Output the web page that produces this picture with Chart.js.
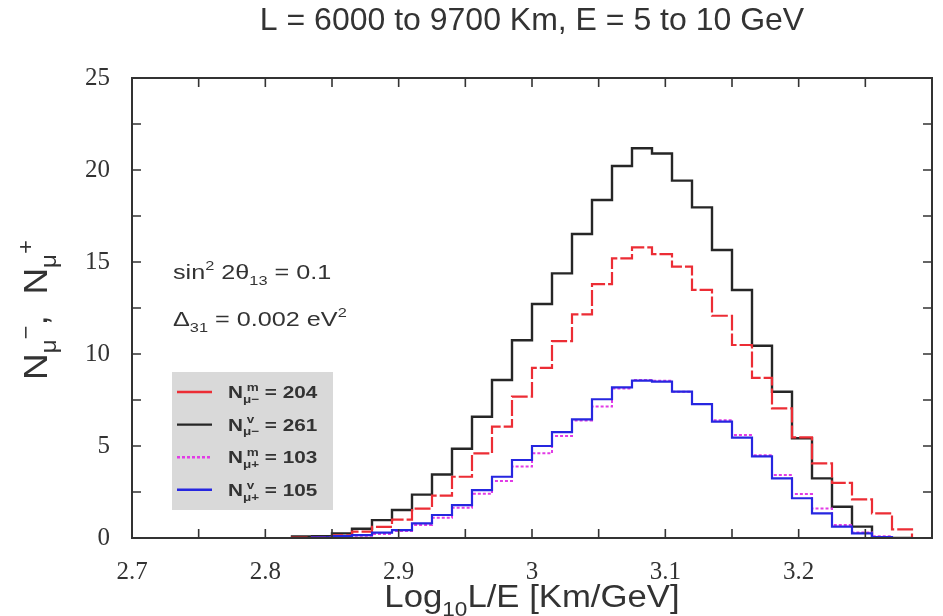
<!DOCTYPE html>
<html>
<head>
<meta charset="utf-8">
<script src="https://cdn.jsdelivr.net/npm/chart.js@4"></script>
<style>
  body { margin: 0; background: #fff; }
  #wrap { width: 943px; height: 616px; }
</style>
</head>
<body>
<div id="wrap"><canvas id="chart" width="943" height="616"></canvas></div>
<script>
// bin edges in Log10 L/E (last entry closes the last bin)
const binEdges = [2.82, 2.835, 2.85, 2.865, 2.88, 2.895, 2.91, 2.925, 2.94, 2.955,
    2.97, 2.985, 3.0, 3.015, 3.03, 3.045, 3.06, 3.075, 3.09, 3.105,
    3.12, 3.135, 3.15, 3.165, 3.18, 3.195, 3.21, 3.225, 3.24, 3.255,
    3.27, 3.285];

// events per bin
const muMinusMatter = [0.02, 0.05, 0.15, 0.35, 0.6, 1.0, 1.6, 2.3, 3.33, 4.6,
    6.05, 7.68, 9.25, 10.7, 12.15, 13.8, 15.2, 15.8, 15.43, 14.75,
    13.48, 12.08, 10.49, 8.7, 7.05, 5.47, 4.06, 3.0, 2.1, 1.34, 0.47];
const muMinusVacuum = [0.08, 0.1, 0.25, 0.5, 0.97, 1.52, 2.36, 3.45, 4.85, 6.59,
    8.59, 10.75, 12.72, 14.38, 16.52, 18.37, 20.22, 21.18, 20.9, 19.42,
    17.97, 15.65, 13.48, 10.45, 7.95, 5.42, 3.24, 1.7, 0.62, 0, 0];
const muPlusMatter = [0, 0.02, 0.06, 0.12, 0.22, 0.38, 0.7, 1.1, 1.65, 2.4,
    3.1, 3.88, 4.6, 5.54, 6.38, 7.14, 8.13, 8.59, 8.55, 7.95,
    7.28, 6.4, 5.6, 4.5, 3.42, 2.39, 1.61, 0.7, 0.3, 0.1, 0];
const muPlusVacuum = [0, 0.03, 0.1, 0.16, 0.29, 0.43, 0.8, 1.25, 1.79, 2.6,
    3.33, 4.24, 5.0, 5.75, 6.45, 7.54, 8.19, 8.55, 8.5, 7.95,
    7.28, 6.32, 5.45, 4.44, 3.24, 2.16, 1.34, 0.62, 0.25, 0.05, 0];

const totals = { mm: 204, mv: 261, pm: 103, pv: 105 };

const TEXT = '#333';
const SANS = '"Liberation Sans", Arial, sans-serif';
const SERIF = '"Liberation Serif", "Times New Roman", serif';

// turn a bin list into step points
function histPoints(values) {
    const pts = [{ x: binEdges[0], y: 0 }];
    values.forEach((v, i) => pts.push({ x: binEdges[i], y: v }));
    pts.push({ x: binEdges[values.length], y: 0 });
    return pts;
}

// text with sub/superscripts; parts: [text, kind, stackOnPrevious]
function layoutRich(ctx, parts, size, weight) {
    let cx = 0, lastStart = 0, lastW = 0;
    const out = [];
    parts.forEach(p => {
        const s = p[1] ? size * 0.65 : size;
        const dy = p[1] === 'sub' ? size * 0.28 : p[1] === 'sup' ? -size * 0.42 : 0;
        const font = `${weight} ${s}px ${SANS}`;
        ctx.font = font;
        const pw = ctx.measureText(p[0]).width;
        const start = p[2] ? lastStart : cx;
        out.push({ t: p[0], x: start, dy, font });
        if (p[2]) { cx = start + Math.max(lastW, pw); lastW = Math.max(lastW, pw); }
        else { cx = start + pw; lastStart = start; lastW = pw; }
    });
    return { items: out, width: cx };
}
function drawRich(ctx, x, y, parts, size, weight, align, stretch) {
    const sx = stretch || 1;
    const lay = layoutRich(ctx, parts, size, weight);
    ctx.save();
    ctx.translate(x, y);
    ctx.scale(sx, 1);
    const x0 = align === 'center' ? -lay.width / 2 : 0;
    ctx.textBaseline = 'alphabetic';
    ctx.textAlign = 'left';
    lay.items.forEach(it => {
        ctx.font = it.font;
        ctx.fillText(it.t, x0 + it.x, it.dy);
    });
    ctx.restore();
}

const framePlugin = {
    id: 'frame',
    afterDatasetsDraw(chart) {
        const { ctx, chartArea: a, scales } = chart;
        ctx.save();
        ctx.strokeStyle = '#333';
        ctx.lineWidth = 2;
        ctx.strokeRect(a.left, a.top, a.right - a.left, a.bottom - a.top);
        ctx.lineWidth = 1.6;
        ctx.beginPath();
        scales.x.ticks.forEach(t => {
            const px = scales.x.getPixelForValue(t.value);
            ctx.moveTo(px, a.bottom); ctx.lineTo(px, a.bottom - 9);
            ctx.moveTo(px, a.top); ctx.lineTo(px, a.top + 9);
        });
        scales.y.ticks.forEach(t => {
            const py = scales.y.getPixelForValue(t.value);
            ctx.moveTo(a.left, py); ctx.lineTo(a.left + 9, py);
            ctx.moveTo(a.right, py); ctx.lineTo(a.right - 9, py);
        });
        ctx.stroke();

        ctx.fillStyle = TEXT;
        // axis titles
        drawRich(ctx, (a.left + a.right) / 2, 607,
            [['Log', ''], ['10', 'sub'], ['L/E [Km/GeV]', '']], 31, 'normal', 'center', 1.12);
        ctx.save();
        ctx.translate(47, (a.top + a.bottom) / 2 + 2);
        ctx.rotate(-Math.PI / 2);
        drawRich(ctx, 0, 0, [['N', ''], ['μ', 'sub'], ['−', 'sup'], [',  N', ''],
            ['μ', 'sub'], ['+', 'sup']], 33, 'normal', 'center', 1.12);
        ctx.restore();

        // oscillation parameters
        drawRich(ctx, 173, 279, [['sin', ''], ['2', 'sup'], [' 2θ', ''], ['13', 'sub'], [' = 0.1', '']],
            21, 'normal', 'left', 1.2);
        drawRich(ctx, 173, 326, [['Δ', ''], ['31', 'sub'], [' = 0.002 eV', ''], ['2', 'sup']],
            21, 'normal', 'left', 1.2);

        // legend box
        ctx.fillStyle = '#d9d9d9';
        ctx.fillRect(172, 372, 161, 138);
        const ds = chart.data.datasets;
        const rows = [
            [ds[1], [['N', ''], ['μ−', 'sub'], [' m', 'sup', true], [' = ' + totals.mm, '']]],
            [ds[0], [['N', ''], ['μ−', 'sub'], [' v', 'sup', true], [' = ' + totals.mv, '']]],
            [ds[2], [['N', ''], ['μ+', 'sub'], [' m', 'sup', true], [' = ' + totals.pm, '']]],
            [ds[3], [['N', ''], ['μ+', 'sub'], [' v', 'sup', true], [' = ' + totals.pv, '']]]
        ];
        rows.forEach((r, i) => {
            const y = 392 + i * 32.6;
            ctx.strokeStyle = r[0].borderColor;
            ctx.lineWidth = 2.4;
            ctx.setLineDash(i === 2 ? [3, 2] : []);
            ctx.beginPath();
            ctx.moveTo(177, y); ctx.lineTo(212, y);
            ctx.stroke();
            ctx.setLineDash([]);
            ctx.fillStyle = TEXT;
            drawRich(ctx, 228, y + 6, r[1], 17, 'bold', 'left', 1.22);
        });
        ctx.restore();
    }
};

const ctx = document.getElementById('chart').getContext('2d');
const histChart = new Chart(ctx, {
    type: 'line',
    data: {
        datasets: [
            { label: 'mu- vacuum', data: histPoints(muMinusVacuum), borderColor: '#262626', borderWidth: 2.4, order: 4 },
            { label: 'mu- matter', data: histPoints(muMinusMatter), borderColor: '#ec2d35', borderWidth: 2.2, borderDash: [16, 3], order: 3 },
            { label: 'mu+ matter', data: histPoints(muPlusMatter), borderColor: '#e23be6', borderWidth: 2, borderDash: [3, 2], order: 2 },
            { label: 'mu+ vacuum', data: histPoints(muPlusVacuum), borderColor: '#2626e0', borderWidth: 2.2, order: 1 }
        ]
    },
    options: {
        responsive: false,
        animation: false,
        layout: { padding: { left: 0, right: 9, top: 0, bottom: 0 } },
        elements: {
            point: { radius: 0 },
            line: { stepped: 'before', tension: 0, fill: false }
        },
        plugins: {
            legend: { display: false },
            tooltip: { enabled: false },
            title: {
                display: true,
                fullSize: false,
                text: 'L = 6000 to 9700 Km, E = 5 to 10 GeV',
                color: TEXT,
                font: { family: SANS, size: 32, weight: 'normal' },
                padding: { top: 2, bottom: 37.6 }
            }
        },
        scales: {
            x: {
                type: 'linear',
                min: 2.7,
                max: 3.3,
                grid: { display: false },
                border: { display: false },
                afterFit(scale) { scale.height = 78; },
                ticks: {
                    stepSize: 0.05,
                    autoSkip: false,
                    maxRotation: 0,
                    padding: 11,
                    color: TEXT,
                    font: { family: SERIF, size: 25 },
                    callback(v) {
                        const r = Math.round(v * 10);
                        if (Math.abs(v * 10 - r) > 1e-6 || r === 33) return '';
                        return String(r / 10);
                    }
                }
            },
            y: {
                min: 0,
                max: 25,
                grid: { display: false },
                border: { display: false },
                afterFit(scale) { scale.width = 132; },
                ticks: {
                    stepSize: 2.5,
                    padding: 14,
                    color: TEXT,
                    font: { family: SERIF, size: 25 },
                    callback(v) { return v % 5 === 0 ? String(v) : ''; }
                }
            }
        }
    },
    plugins: [framePlugin]
});
</script>
</body>
</html>
